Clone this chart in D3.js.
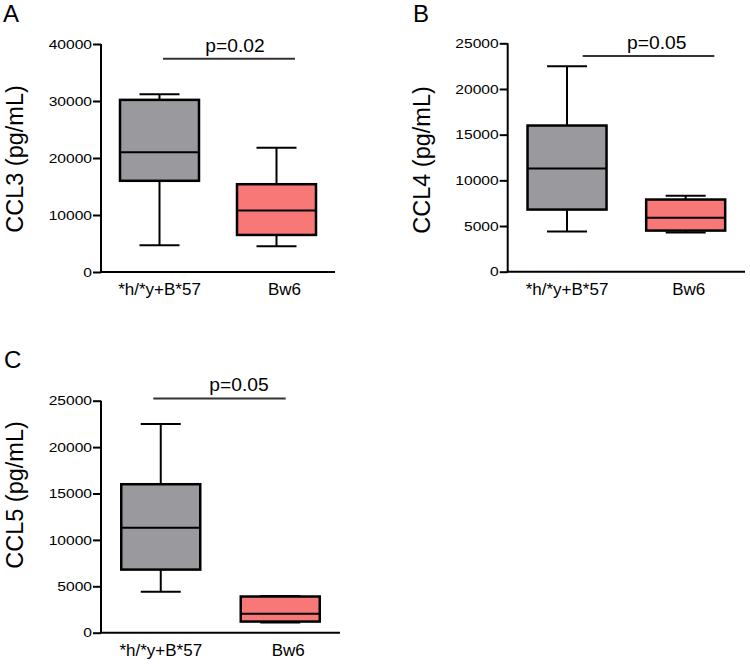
<!DOCTYPE html>
<html><head><meta charset="utf-8">
<script src="https://cdn.jsdelivr.net/npm/d3@7"></script>
<style>body{margin:0;background:#fff}svg{display:block}text{font-family:"Liberation Sans",Arial,sans-serif}</style>
</head><body>
<svg id="chart" width="750" height="665"></svg>
<script>
// ---- data ----
const groups = ["*h/*y+B*57", "Bw6"];
const panelLetters = ["A", "B", "C"];
const yLabels = ["CCL3 (pg/mL)", "CCL4 (pg/mL)", "CCL5 (pg/mL)"];
const yMax = [40000, 25000, 25000];
const yTicks = [
  [0, 10000, 20000, 30000, 40000],
  [0, 5000, 10000, 15000, 20000, 25000],
  [0, 5000, 10000, 15000, 20000, 25000]
];
// box stats per panel: [min, q1, median, q3, max] for each group
const ccl3 = [[4700, 16000, 21000, 30200, 31200], [4500, 6500, 10800, 15400, 21800]];
const ccl4 = [[4400, 6800, 11300, 16000, 22500], [4300, 4500, 5900, 7900, 8300]];
const ccl5 = [[4400, 6800, 11300, 16000, 22500], [1100, 1200, 2050, 3900, 3950]];
const pValues = ["p=0.02", "p=0.05", "p=0.05"];
const sigLevel = [37400, 23600, 25250];

// ---- layout ----
const panels = [
  {x0: 101, x1: 335, yTop: 44, yBot: 272, letter: [3, 22], labCy: 159, sig: [163, 295], pCx: 235, bwDx: 8, stats: ccl3},
  {x0: 507.7, x1: 745, yTop: 43.3, yBot: 271.7, letter: [413, 22], labCy: 160, sig: [582.7, 714.3], pCx: 656.7, bwDx: 3, stats: ccl4},
  {x0: 101, x1: 340, yTop: 400.7, yBot: 632.7, letter: [4, 368], labCy: 495, sig: [153.3, 285.7], pCx: 239, bwDx: 8, stats: ccl5}
];
const fills = ["#9a999e", "#f87878"];
const boxW = 79, capW = 40;

const svg = d3.select("#chart");

panels.forEach((p, i) => {
  const g = svg.append("g");
  const x = d3.scalePoint().domain(groups).range([p.x0, p.x1]).padding(0.5);
  const y = d3.scaleLinear().domain([0, yMax[i]]).range([p.yBot, p.yTop]);

  // y axis
  const ya = g.append("g").attr("transform", `translate(${p.x0},0)`)
    .call(d3.axisLeft(y).tickValues(yTicks[i]).tickFormat(d3.format("d"))
      .tickSize(8).tickPadding(1).tickSizeOuter(0));
  ya.select(".domain").attr("stroke", "#000").attr("stroke-width", 2)
    .attr("d", `M0,${p.yTop}V${p.yBot}`);
  ya.selectAll(".tick line").attr("stroke", "#000").attr("stroke-width", 2);
  ya.selectAll(".tick text").attr("font-size", 13).attr("fill", "#000")
    .attr("x", null).attr("transform", "translate(-9,0) scale(1.2,1)");

  // x axis line
  g.append("line").attr("x1", p.x0 - 1).attr("x2", p.x1).attr("y1", p.yBot).attr("y2", p.yBot)
    .attr("stroke", "#000").attr("stroke-width", 2);

  // x labels
  g.selectAll(".xl").data(groups).join("text")
    .attr("x", (d, j) => x(d) + (j === 1 ? p.bwDx : 0))
    .attr("y", p.yBot + 23).attr("text-anchor", "middle").attr("font-size", 17).text(d => d);

  // boxes
  p.stats.forEach((s, j) => {
    const cx = x(groups[j]);
    const [mn, q1, md, q3, mx] = s;
    const bg = g.append("g");
    bg.append("line").attr("x1", cx).attr("x2", cx).attr("y1", y(mx)).attr("y2", y(q3))
      .attr("stroke", "#000").attr("stroke-width", 2);
    bg.append("line").attr("x1", cx).attr("x2", cx).attr("y1", y(q1)).attr("y2", y(mn))
      .attr("stroke", "#000").attr("stroke-width", 2);
    [mn, mx].forEach(v => bg.append("line").attr("x1", cx - capW / 2).attr("x2", cx + capW / 2)
      .attr("y1", y(v)).attr("y2", y(v)).attr("stroke", "#000").attr("stroke-width", 2));
    bg.append("rect").attr("x", cx - boxW / 2).attr("width", boxW)
      .attr("y", y(q3)).attr("height", y(q1) - y(q3))
      .attr("fill", fills[j]).attr("stroke", "#000").attr("stroke-width", 2.5);
    bg.append("line").attr("x1", cx - boxW / 2).attr("x2", cx + boxW / 2)
      .attr("y1", y(md)).attr("y2", y(md)).attr("stroke", "#000").attr("stroke-width", 2);
  });

  // significance
  g.append("line").attr("x1", p.sig[0]).attr("x2", p.sig[1])
    .attr("y1", y(sigLevel[i])).attr("y2", y(sigLevel[i]))
    .attr("stroke", "#333").attr("stroke-width", 2);
  g.append("text").attr("text-anchor", "middle").attr("font-size", 17.5)
    .attr("transform", `translate(${p.pCx},${y(sigLevel[i]) - 7}) scale(1.1,1)`)
    .text(pValues[i]);

  // y label
  g.append("text").attr("text-anchor", "middle").attr("font-size", 23.5)
    .attr("transform", `translate(${p.x0 - 78},${p.labCy}) rotate(-90)`)
    .text(yLabels[i]);

  // panel letter
  g.append("text").attr("x", p.letter[0]).attr("y", p.letter[1]).attr("font-size", 24).text(panelLetters[i]);
});
</script>
</body></html>
